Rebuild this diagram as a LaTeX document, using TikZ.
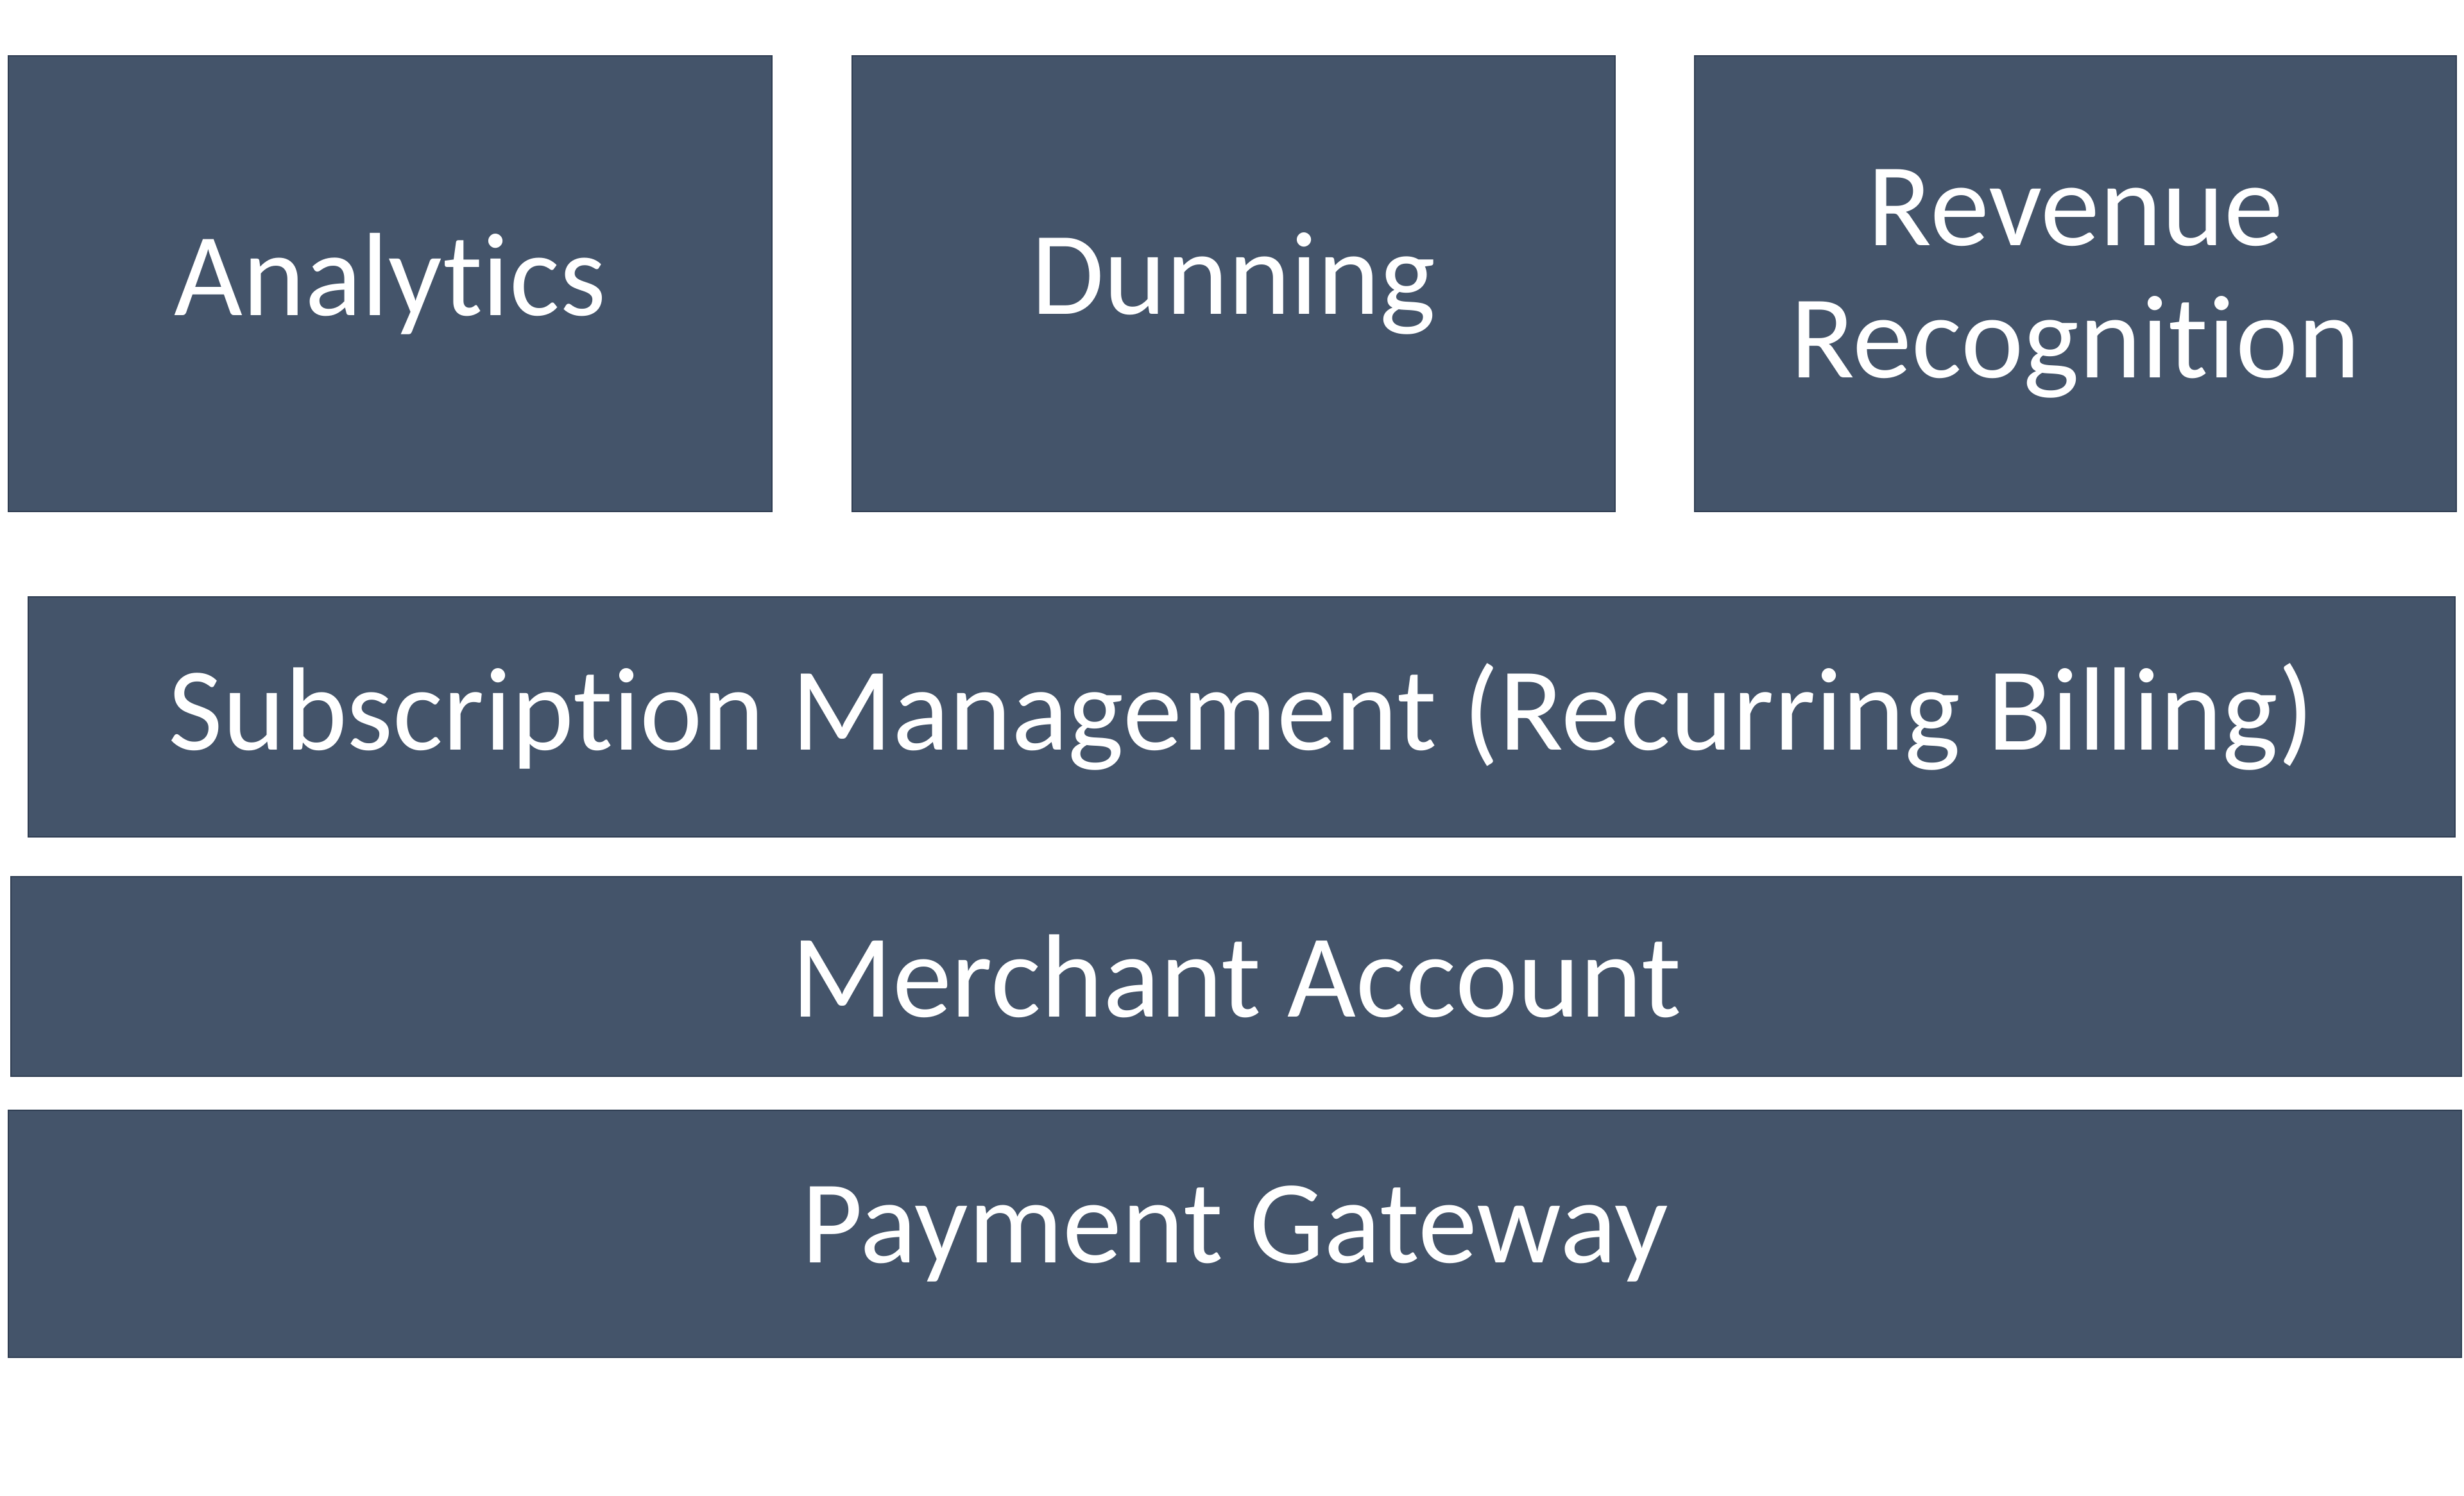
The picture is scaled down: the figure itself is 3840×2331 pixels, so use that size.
\documentclass[tikz,border=0pt]{standalone}
\usepackage{fontspec}
\setmainfont[Ligatures=NoCommon]{Carlito}
\definecolor{slate}{HTML}{44546A}
\definecolor{slateedge}{HTML}{2F3D52}

\begin{document}
\begin{tikzpicture}[x=0.01cm, y=-0.01cm,
  layer/.style={draw=slateedge, line width=0.6pt, fill=slate, text=white,
    inner sep=0pt, outer sep=0pt, align=center,
    font=\fontsize{52.5}{58.5}\selectfont}]
\useasboundingbox (0,0) rectangle (3840,2331);
\node[layer, minimum width=11.90cm, minimum height=7.10cm] (1) at (608,442) {Analytics};
\node[layer, minimum width=11.89cm, minimum height=7.10cm] (2) at (1922.5,442) {Dunning};
\node[layer, minimum width=11.87cm, minimum height=7.10cm] (3) at (3234.5,442) {Revenue\\Recognition};
\node[layer, minimum width=37.80cm, minimum height=3.74cm] (4) at (1935,1117) {Subscription Management (Recurring Billing)};
\node[layer, minimum width=38.17cm, minimum height=3.11cm] (5) at (1926.5,1521.5) {Merchant Account};
\node[layer, minimum width=38.21cm, minimum height=3.85cm] (6) at (1924.5,1922.5) {Payment Gateway};
\end{tikzpicture}
\end{document}
